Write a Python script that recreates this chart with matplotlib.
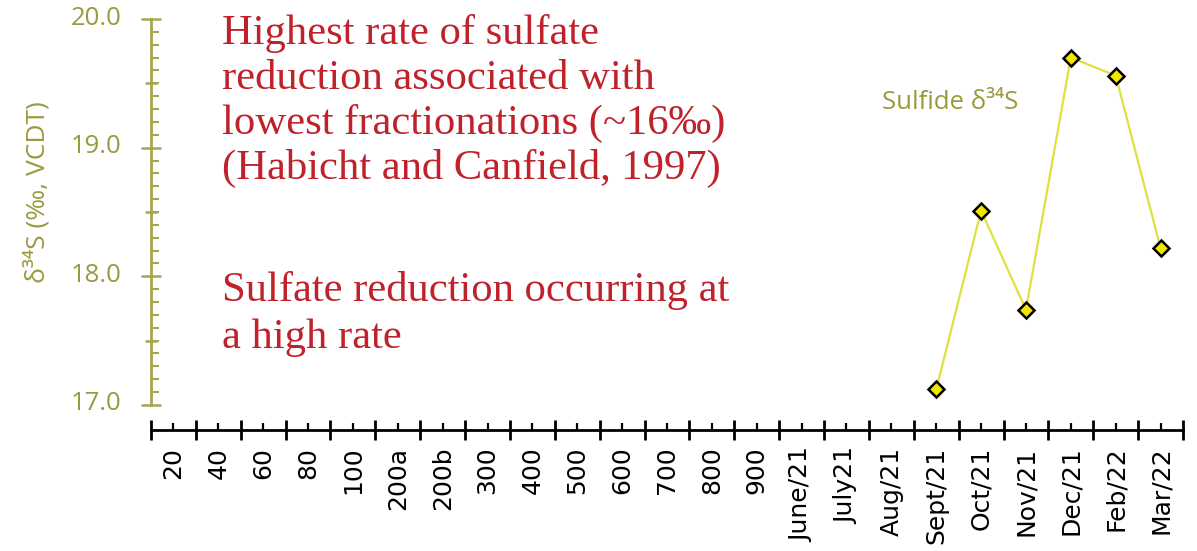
import matplotlib
matplotlib.use("Agg")
import matplotlib.pyplot as plt
from matplotlib.transforms import ScaledTranslation
import numpy as np

# sample / month labels along the x axis
categories = ["20", "40", "60", "80", "100", "200a", "200b", "300", "400", "500",
              "600", "700", "800", "900", "June/21", "July21", "Aug/21", "Sept/21",
              "Oct/21", "Nov/21", "Dec/21", "Feb/22", "Mar/22"]

# sulfide d34S, only measured for the monthly samples
sulfide_cats = ["Sept/21", "Oct/21", "Nov/21", "Dec/21", "Feb/22", "Mar/22"]
sulfide_d34s = [17.12, 18.51, 17.74, 19.70, 19.56, 18.22]

note_top = ("Highest rate of sulfate\nreduction associated with\n"
            "lowest fractionations (~16\u2030)\n(Habicht and Canfield, 1997)")
note_bottom = "Sulfate reduction occurring at\na high rate"

olive = "#9a9a3c"
olive_axis = "#a6a64e"
red = "#c0222c"

fig = plt.figure(figsize=(11.97, 5.51), dpi=100)
ax = fig.add_axes([151 / 1197, 1 - 430 / 551, 1032 / 1197, 411 / 551])

xpos = [categories.index(c) for c in sulfide_cats]
ax.plot(xpos, sulfide_d34s, color="#e0e040", lw=1.6, marker="D", ms=8.5,
        mfc="#f2e600", mec="black", mew=1.8, zorder=3)

ax.set_xlim(-0.5, len(categories) - 0.5)
ax.set_ylim(16.805, 20.0)

for s in ["top", "right"]:
    ax.spines[s].set_visible(False)
ax.spines["bottom"].set_color("black")
ax.spines["bottom"].set_linewidth(2)
ax.spines["left"].set_color(olive_axis)
ax.spines["left"].set_linewidth(2)
ax.spines["left"].set_bounds(17.0, 20.0)

# x axis: boundary ticks crossing, labels at category centres
ax.set_xticks(np.arange(-0.5, len(categories)), labels=[])
ax.set_xticks(np.arange(len(categories)), labels=categories, minor=True)
ax.tick_params(axis="x", which="major", direction="inout", length=14, width=2, color="black")
ax.tick_params(axis="x", which="minor", direction="in", length=5, width=1.6, color="black",
               pad=12, labelsize=18, labelrotation=90)
for lab in ax.get_xticklabels(minor=True):
    lab.set_family("DejaVu Sans")

# y axis: long ticks at integers, half ticks, 0.1 minor ticks
ax.set_yticks([17.0, 18.0, 19.0, 20.0], labels=["17.0", "18.0", "19.0", "20.0"])
ax.set_yticks(np.arange(17.0, 20.01, 0.1), minor=True)
ax.tick_params(axis="y", which="major", direction="inout", length=14, width=1.8,
               color=olive_axis, labelcolor=olive, labelsize=18.5, pad=14)
ax.tick_params(axis="y", which="minor", direction="in", length=6, width=1.5, color=olive_axis)
lift = ScaledTranslation(0, 4 / 100, fig.dpi_scale_trans)
for lab in ax.get_yticklabels():
    lab.set_family(["Open Sans", "DejaVu Sans"])
    lab.set_transform(lab.get_transform() + lift)

half = ax.secondary_yaxis("left")
half.set_yticks([17.5, 18.5, 19.5], labels=[])
half.tick_params(axis="y", which="major", direction="inout", length=8, width=1.8, color=olive_axis)
half.tick_params(axis="y", which="minor", length=0)
half.spines["left"].set_visible(False)

ax.set_ylabel("\u03b4\u00b3\u2074S (\u2030, VCDT)", color=olive, fontsize=19,
              family=["Open Sans", "DejaVu Sans"])
ax.yaxis.set_label_coords(-101 / 1032, 1 - (192 - 19) / 411)

ax.text(15.8, 19.3, "Sulfide \u03b4\u00b3\u2074S", color=olive, fontsize=18.5,
        family=["Open Sans", "DejaVu Sans"], va="baseline", ha="left")

fig.text(222 / 1197, 1 - 14 / 551, note_top, color=red, fontsize=30.7,
         family="Liberation Serif", va="top", ha="left", linespacing=1.21)
fig.text(222 / 1197, 1 - 271 / 551, note_bottom, color=red, fontsize=30.7,
         family="Liberation Serif", va="top", ha="left", linespacing=1.28)

fig.savefig("out.png", dpi=100)
